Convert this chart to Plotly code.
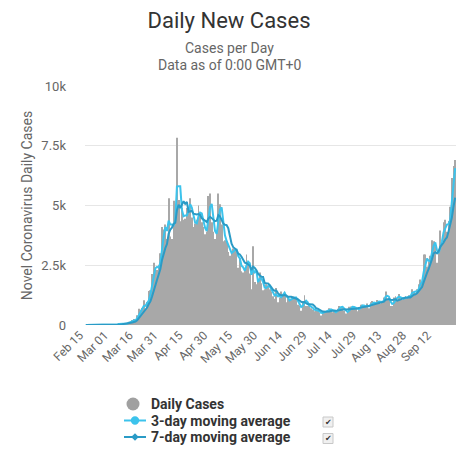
import pandas as pd
import plotly.graph_objects as go

# ---- data (daily new cases, Feb 15 .. Sep 25) ----
start_date = "2020-02-15"
feb = [0, 0, 0, 0, 0, 0, 0, 0, 4, 0, 0, 0, 2, 5, 3]
mar = [12, 4, 11, 34, 30, 48, 43, 67, 48, 52,
       83, 134, 117, 208, 251, 152, 407, 676, 643, 714,
       1035, 665, 967, 1427, 1452, 2129, 2600, 2400, 2300, 2500, 3000]
apr = [4100, 4000, 4200, 3600, 5300, 3700, 3600, 5200, 4344, 7830,
       5233, 4342, 4900, 4400, 4450, 4900, 4950, 5300, 4500, 4100,
       4250, 4400, 5000, 4700, 4300, 4100, 3800, 3900, 5400, 5500]
may = [4300, 3900, 3600, 3950, 5500, 5050, 4200, 3500, 3550, 3500,
       3050, 2900, 3100, 3200, 3100, 3150, 2400, 2800, 2250, 2200,
       2350, 2950, 2650, 2150, 1500, 3300, 1800, 1700, 1900, 2200, 1750]
jun = [1450, 1500, 1700, 1650, 1500, 1400, 1200, 1100, 1550, 950,
       1150, 1400, 1300, 1350, 950, 1150, 1000, 1100, 1200, 1150,
       1100, 850, 800, 600, 1000, 1250, 800, 800, 820, 700]
jul = [650, 580, 600, 620, 520, 400, 580, 600, 560, 620,
       700, 650, 530, 550, 530, 680, 800, 750, 720, 600,
       480, 550, 760, 770, 760, 730, 680, 580, 740, 850, 850]
aug = [750, 750, 900, 700, 950, 1000, 850, 900, 1050, 1000,
       900, 1000, 1150, 1400, 1100, 1050, 800, 800, 1150, 1200,
       1050, 1300, 1100, 1050, 1150, 1200, 1100, 1250, 1250, 1500, 1400]
sep = [1300, 1500, 1700, 1900, 1800, 2950, 2950, 2450, 2650, 2900,
       3550, 3500, 3300, 2600, 3100, 3950, 3400, 4300, 4400, 3900,
       4350, 4950, 6150, 6650, 6900]

daily = feb + mar + apr + may + jun + jul + aug + sep
categories = [d.strftime("%b %d") for d in pd.date_range(start_date, periods=len(daily), freq="D")]

tick_labels = ["Feb 15", "Mar 01", "Mar 16", "Mar 31", "Apr 15", "Apr 30", "May 15",
               "May 30", "Jun 14", "Jun 29", "Jul 14", "Jul 29", "Aug 13", "Aug 28", "Sep 12"]
y_tick_vals = [0, 2500, 5000, 7500, 10000]
y_tick_text = ["0", "2.5k", "5k", "7.5k", "10k"]
legend_names = ["Daily Cases", "3-day moving average", "7-day moving average"]

s = pd.Series(daily, dtype=float)
ma3 = s.rolling(3, min_periods=1).mean().tolist()
ma7 = s.rolling(7, min_periods=1).mean().tolist()

C_BAR = "#a8a8a8"
C_3 = "#3cc3ec"
C_7 = "#2a9bc6"
FONT = "Roboto"

# figure geometry (page margin removed in the html, see write_html below)
W, H = 456, 450
L, R, T, B = 85, 0, 86, 125
PW, PH = W - L - R, H - T - B


def px(x):
    return (x - L) / PW


def py(y):
    return (T + PH - y) / PH


fig = go.Figure()
fig.add_trace(go.Bar(x=categories, y=daily, marker=dict(color=C_BAR, line=dict(width=0)),
                     showlegend=False, name=legend_names[0]))
fig.add_trace(go.Scatter(x=categories, y=ma3, mode="lines", line=dict(color=C_3, width=2),
                         showlegend=False, name=legend_names[1]))
fig.add_trace(go.Scatter(x=categories, y=ma7, mode="lines", line=dict(color=C_7, width=2),
                         showlegend=False, name=legend_names[2]))

annotations = [
    dict(text="Cases per Day", xref="paper", yref="paper", x=px(229), y=py(48),
         showarrow=False, xanchor="center", yanchor="middle",
         font=dict(family=FONT, size=14, color="#666666")),
    dict(text="Data as of 0:00 GMT+0", xref="paper", yref="paper", x=px(229), y=py(65),
         showarrow=False, xanchor="center", yanchor="middle",
         font=dict(family=FONT, size=14, color="#666666")),
]
shapes = []

# ---- manual legend ----
rows = [404, 420.5, 437]
text_x = 149
for name, ry in zip(legend_names, rows):
    annotations.append(dict(text="<b>" + name + "</b>", xref="paper", yref="paper",
                            x=px(text_x), y=py(ry), showarrow=False, xanchor="left",
                            yanchor="middle", font=dict(family=FONT, size=14, color="#333333")))
# Daily cases circle
cx, r = 133, 6.5
shapes.append(dict(type="circle", xref="paper", yref="paper", x0=px(cx - r), x1=px(cx + r),
                   y0=py(rows[0] + r), y1=py(rows[0] - r), fillcolor="#a0a0a0", line=dict(width=0)))
# 3-day: line + circle
shapes.append(dict(type="line", xref="paper", yref="paper", x0=px(124), x1=px(146),
                   y0=py(rows[1]), y1=py(rows[1]), line=dict(color=C_3, width=2)))
r3 = 4.2
shapes.append(dict(type="circle", xref="paper", yref="paper", x0=px(135 - r3), x1=px(135 + r3),
                   y0=py(rows[1] + r3), y1=py(rows[1] - r3), fillcolor=C_3, line=dict(width=0)))
# 7-day: line + diamond
shapes.append(dict(type="line", xref="paper", yref="paper", x0=px(124), x1=px(146),
                   y0=py(rows[2]), y1=py(rows[2]), line=dict(color=C_7, width=2)))
d = 3.8
path = "M {:.5f} {:.5f} L {:.5f} {:.5f} L {:.5f} {:.5f} L {:.5f} {:.5f} Z".format(
    px(135), py(rows[2] - d), px(135 + d), py(rows[2]), px(135), py(rows[2] + d), px(135 - d), py(rows[2]))
shapes.append(dict(type="path", xref="paper", yref="paper", path=path, fillcolor=C_7,
                   line=dict(width=0)))
# checkboxes
for ry in rows[1:]:
    cy = ry + 1.5
    shapes.append(dict(type="rect", xref="paper", yref="paper", x0=px(323), x1=px(333),
                       y0=py(cy + 5), y1=py(cy - 5), line=dict(color="#c8c8c8", width=1),
                       fillcolor="#f0f0f0"))
    annotations.append(dict(text="✔", xref="paper", yref="paper", x=px(328), y=py(cy),
                            showarrow=False, xanchor="center", yanchor="middle",
                            font=dict(family="DejaVu Sans", size=8, color="#333333")))

fig.update_layout(
    width=W, height=H,
    margin=dict(l=L, r=R, t=T, b=B, autoexpand=False),
    paper_bgcolor="white", plot_bgcolor="white",
    bargap=0.45,
    showlegend=False,
    font=dict(family=FONT, color="#666666", size=12),
    title=dict(text="Daily New Cases", x=px(229), xref="paper", xanchor="center",
               y=1 - 20 / H, yanchor="middle",
               font=dict(family=FONT, size=22, color="#333333")),
    xaxis=dict(type="category", range=[-0.5, len(daily) - 0.5], tickmode="array",
               tickvals=tick_labels, ticktext=tick_labels, tickangle=-45,
               showgrid=False, showline=False, zeroline=False, ticks="",
               ticklabelshift=-6,
               tickfont=dict(family=FONT, size=12, color="#666666")),
    yaxis=dict(range=[0, 10000], tickmode="array", tickvals=y_tick_vals, ticktext=y_tick_text,
               showgrid=True, gridcolor="#e6e6e6", gridwidth=1, zeroline=False, showline=False,
               ticks="", ticklabelstandoff=18,
               tickfont=dict(family=FONT, size=13, color="#666666"),
               title=dict(text="Novel Coronavirus Daily Cases", standoff=5,
                          font=dict(family=FONT, size=14, color="#666666"))),
    annotations=annotations,
    shapes=shapes,
)

post = "document.body.style.margin='0';document.body.style.overflow='hidden';"
fig.write_html("out.html", config={"displayModeBar": False}, post_script=post)
